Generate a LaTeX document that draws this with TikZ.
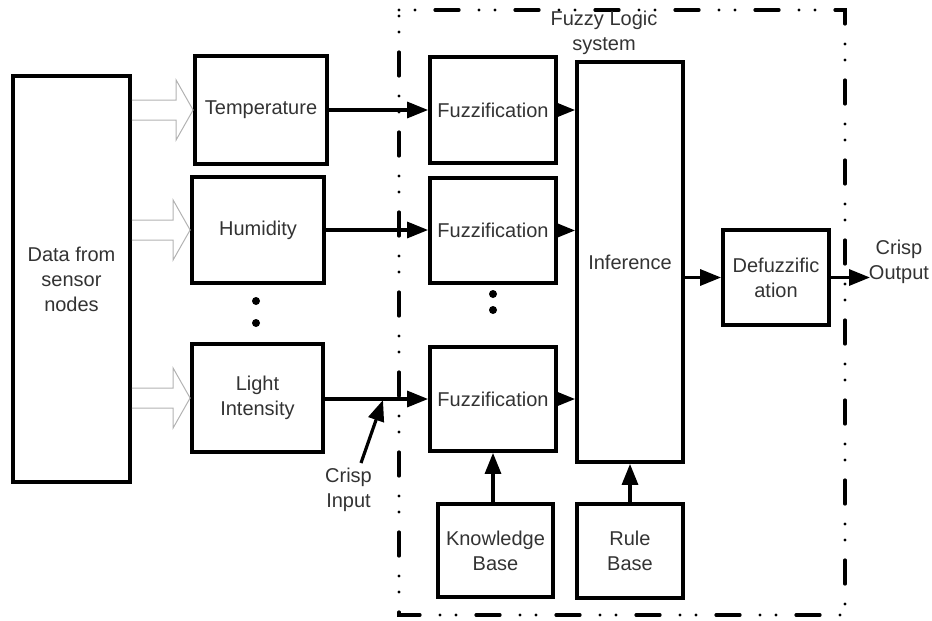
\documentclass[tikz,border=0pt]{standalone}
\usepackage{fontspec}
\setmainfont{Liberation Sans}
\usetikzlibrary{calc,arrows.meta}

\begin{document}
\begin{tikzpicture}[x=0.5pt, y=-0.5pt, >={Triangle[length=10.5pt,width=8pt]},
  font=\fontsize{10}{12.5}\selectfont,
  blk/.style={draw, line width=1.9pt, align=center, text=black!80, inner sep=0pt},
  lbl/.style={align=center, text=black!80, inner sep=0pt},
  conn/.style={->, line width=1.6pt},
  hollow/.style={draw=gray!60, line width=0.5pt, line join=miter},
  flsbox/.style={line width=1.6pt, line cap=round,
    dash pattern=on 0pt off 8pt on 0pt off 10pt on 12pt off 10pt}]

  % ===== canvas =====
  \useasboundingbox (0,0) rectangle (932,621);

  % ===== blocks =====
  \node[blk, minimum width=58.5pt, minimum height=203pt] (data) at (71.5,279) {Data from\\sensor\\nodes};

  \node[blk, minimum width=66pt, minimum height=54pt] (temp) at (261,110) {Temperature};
  \node[blk, minimum width=66pt, minimum height=53pt] (hum) at (258,230) {Humidity};
  \node[blk, minimum width=65.5pt, minimum height=54pt] (light) at (257.5,398) {Light\\Intensity};

  \node[blk, minimum width=63pt, minimum height=53pt] (fuzz1) at (493,110) {Fuzzification};
  \node[blk, minimum width=63pt, minimum height=52.5pt] (fuzz2) at (493,230.5) {Fuzzification};
  \node[blk, minimum width=63pt, minimum height=52pt] (fuzz3) at (493,399) {Fuzzification};

  \node[blk, minimum width=53pt, minimum height=200pt] (inf) at (630,262) {Inference};
  \node[blk, minimum width=53pt, minimum height=47.5pt] (defuzz) at (776,277.5) {Defuzzific\\ation};

  \node[blk, minimum width=57.5pt, minimum height=46.5pt] (kb) at (495.5,550.5) {Knowledge\\Base};
  \node[blk, minimum width=53pt, minimum height=47pt] (rb) at (630,551) {Rule\\Base};

  % ===== fuzzy logic system frame =====
  \draw[flsbox] (399,10) -- (845,10) -- (845,615) -- (399,615) -- cycle;
  \node[lbl] (fls) at (604,33) {Fuzzy Logic\\system};

  % ---- hollow arrows from sensor data ----
  \foreach \b in {temp,hum,light} {
    \draw[hollow] ($(data.east |- \b.west)+(0,-10)$) -- ($(\b.west)+(-17,-10)$)
      -- ($(\b.west)+(-17,-30)$) -- (\b.west) -- ($(\b.west)+(-17,30)$)
      -- ($(\b.west)+(-17,10)$) -- ($(data.east |- \b.west)+(0,10)$);
  }

  % ---- ellipsis dots ----
  \fill (256,301) circle[radius=2pt];
  \fill (256,323) circle[radius=2pt];
  \fill (493,294) circle[radius=2pt];
  \fill (493,310) circle[radius=2pt];

  % ---- crisp inputs ----
  \draw[conn] (temp.east) -- (temp.east -| fuzz1.west);
  \draw[conn] (hum.east) -- (hum.east -| fuzz2.west);
  \draw[conn] (fuzz3.west -| light.east) -- (fuzz3.west);

  % ---- fuzzification -> inference ----
  \foreach \f in {fuzz1,fuzz2,fuzz3}
    \draw[conn] (\f.east) -- (\f.east -| inf.west);

  % ---- bases ----
  \draw[conn] (kb.north -| fuzz3.south) -- (fuzz3.south);
  \draw[conn] (rb.north) -- (inf.south);

  % ---- inference -> defuzzification -> output ----
  \draw[conn] (defuzz.west -| inf.east) -- (defuzz.west);
  \coordinate (out) at (870,277.5);
  \draw[conn] (defuzz.east) -- (out);
  \node[lbl] (outlbl) at (899,262) {Crisp\\Output};

  % ---- crisp input pointer ----
  \coordinate (citail) at (361,463);
  \coordinate (citip) at (383,400);
  \draw[conn] (citail) -- (citip);
  \node[lbl] (cilbl) at (348.5,490) {Crisp\\Input};

\end{tikzpicture}
\end{document}
